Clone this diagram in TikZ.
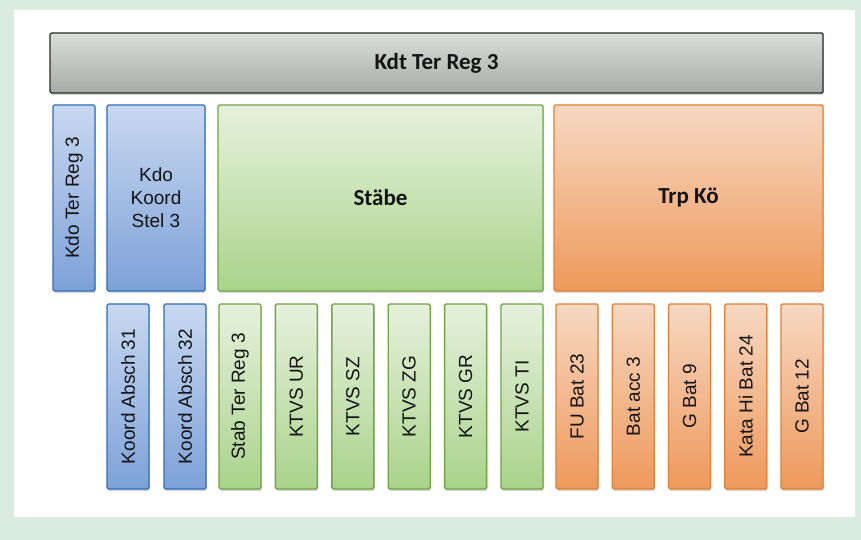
\documentclass[tikz,border=0pt]{standalone}
\usepackage{fontspec}
\setmainfont{Liberation Sans}
\newfontfamily\titlefont{Carlito}
\usetikzlibrary{shadows}
\definecolor{bggreen}{HTML}{D9ECDF}
\definecolor{graytop}{HTML}{DADDDA}
\definecolor{graybot}{HTML}{A7ABA8}
\definecolor{grayline}{HTML}{2A2A2A}
\definecolor{bluetop}{HTML}{C8D8F0}
\definecolor{bluebot}{HTML}{7DA1D8}
\definecolor{blueline}{HTML}{2F6EB8}
\definecolor{greentop}{HTML}{E6F1DD}
\definecolor{greenbot}{HTML}{A9D38A}
\definecolor{greenline}{HTML}{72A443}
\definecolor{orangetop}{HTML}{F7D8C2}
\definecolor{orangebot}{HTML}{EE995B}
\definecolor{orangeline}{HTML}{E67F33}
\definecolor{txt}{HTML}{141414}
\tikzset{
  basebox/.style={rectangle, rounded corners=1.5pt, line width=1.4pt, inner sep=0pt, outer sep=0pt,
    text=txt, align=center, font=\fontsize{19}{23}\selectfont,
    drop shadow={opacity=0.3, shadow xshift=0.8pt, shadow yshift=-2pt}},
  graybox/.style={basebox, draw=grayline, top color=graytop, bottom color=graybot,
    font=\titlefont\bfseries\fontsize{23}{27}\selectfont},
  bluebox/.style={basebox, draw=blueline, top color=bluetop, bottom color=bluebot},
  greenbox/.style={basebox, draw=greenline, top color=greentop, bottom color=greenbot},
  orangebox/.style={basebox, draw=orangeline, top color=orangetop, bottom color=orangebot},
  titletext/.style={font=\titlefont\bfseries\fontsize{23}{27}\selectfont},
  rowtwo/.style={minimum height=186pt},
  rowthree/.style={minimum height=185pt, minimum width=42pt},
}
\begin{document}
\begin{tikzpicture}[x=1pt,y=-1pt]
\useasboundingbox (0,0) rectangle (861,540);
\fill[bggreen] (0,0) rectangle (861,540);
\fill[white] (14,10) rectangle (855,517);

% top bar
\node[graybox, minimum width=773pt, minimum height=60pt] (kdt) at (436.5,63) {Kdt Ter Reg 3};

% second row
\node[bluebox, rowtwo, minimum width=42pt] (kdo) at (74,198) {\rotatebox{90}{Kdo Ter Reg 3}};
\node[bluebox, rowtwo, minimum width=98pt] (koord) at (156,198) {Kdo\\Koord\\Stel 3};
\node[greenbox, rowtwo, minimum width=325pt, titletext] (staebe) at (380.5,198) {Stäbe};
\node[orangebox, rowtwo, minimum width=269pt, titletext] (trp) at (688.5,198) {Trp Kö};

% third row - blue
\node[bluebox, rowthree] (ka31) at (128,396.5) {\rotatebox{90}{Koord Absch 31}};
\node[bluebox, rowthree] (ka32) at (185,396.5) {\rotatebox{90}{Koord Absch 32}};

% third row - green
\node[greenbox, rowthree] (stab) at (240,396.5) {\rotatebox{90}{Stab Ter Reg 3}};
\node[greenbox, rowthree] (ur) at (296.4,396.5) {\rotatebox{90}{KTVS UR}};
\node[greenbox, rowthree] (sz) at (352.8,396.5) {\rotatebox{90}{KTVS SZ}};
\node[greenbox, rowthree] (zg) at (409.2,396.5) {\rotatebox{90}{KTVS ZG}};
\node[greenbox, rowthree] (gr) at (465.6,396.5) {\rotatebox{90}{KTVS GR}};
\node[greenbox, rowthree] (ti) at (522,396.5) {\rotatebox{90}{KTVS TI}};

% third row - orange
\node[orangebox, rowthree] (fu) at (577,396.5) {\rotatebox{90}{FU Bat 23}};
\node[orangebox, rowthree] (acc) at (633.25,396.5) {\rotatebox{90}{Bat acc 3}};
\node[orangebox, rowthree] (g9) at (689.5,396.5) {\rotatebox{90}{G Bat 9}};
\node[orangebox, rowthree] (kata) at (745.75,396.5) {\rotatebox{90}{Kata Hi Bat 24}};
\node[orangebox, rowthree] (g12) at (802,396.5) {\rotatebox{90}{G Bat 12}};
\end{tikzpicture}
\end{document}
